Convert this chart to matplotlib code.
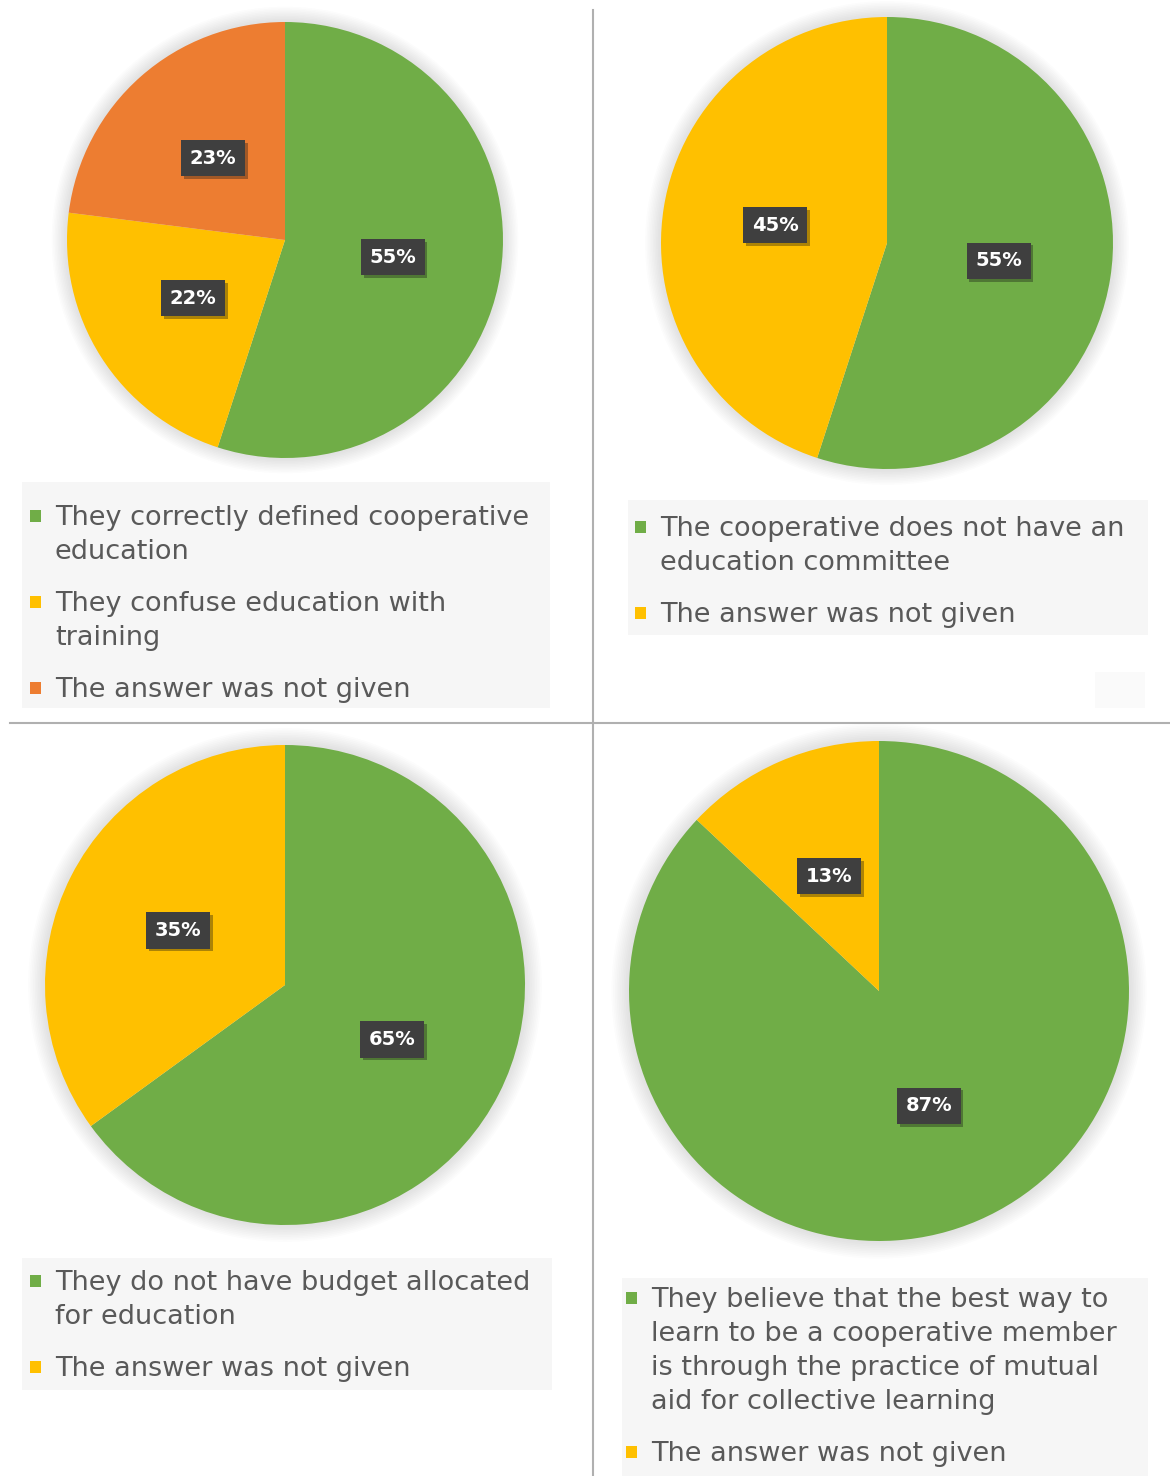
import matplotlib
matplotlib.use("Agg")
import matplotlib.pyplot as plt
from matplotlib.patches import Rectangle, Circle
from matplotlib.lines import Line2D
from matplotlib.legend_handler import HandlerPatch
from matplotlib import patheffects as pe

# ---------------- data ----------------
labels_1 = ["They correctly defined cooperative\neducation",
            "They confuse education with\ntraining",
            "The answer was not given"]
values_1 = [55, 22, 23]

labels_2 = ["The cooperative does not have an\neducation committee",
            "The answer was not given"]
values_2 = [55, 45]

labels_3 = ["They do not have budget allocated\nfor education",
            "The answer was not given"]
values_3 = [65, 35]

labels_4 = ["They believe that the best way to\nlearn to be a cooperative member\n"
            "is through the practice of mutual\naid for collective learning",
            "The answer was not given"]
values_4 = [87, 13]

GREEN, YELLOW, ORANGE = "#70AD47", "#FFC000", "#ED7D31"
colors_1 = [GREEN, YELLOW, ORANGE]
colors_2 = [GREEN, YELLOW]
colors_3 = [GREEN, YELLOW]
colors_4 = [GREEN, YELLOW]

# ---------------- layout ----------------
W, H = 1170, 1476
fig = plt.figure(figsize=(W / 100, H / 100), dpi=100)
fig.patch.set_facecolor("white")

LEG_FS = 19.5          # legend font size (pt)
LEG_PX = LEG_FS * 100 / 72
ASC = 0.906            # "lp" ascent in em units as used by matplotlib's layout
LEG_LS = 34.0 / (ASC * LEG_PX)   # baseline spacing inside an entry ~ 34 px
SQ = 0.39              # key square size (em)
GAP_PX = 14            # gap between key square and text (px)
TEXT_COLOR = "#595959"


class FirstLineSquare(HandlerPatch):
    """Square legend key aligned with the first line of a multi-line label."""
    def __init__(self, nlines, **kw):
        super().__init__(**kw)
        self.nlines = nlines

    def create_artists(self, legend, orig_handle, xdescent, ydescent,
                       width, height, fontsize, trans):
        shift = 0.0
        if self.nlines > 1:
            shift = 0.5 * ((self.nlines - 1) * ASC * fontsize * LEG_LS
                           + 0.236 * fontsize)
        p = Rectangle((-xdescent, 0.12 * fontsize + shift), SQ * fontsize,
                      0.44 * fontsize, facecolor=orig_handle.get_facecolor(),
                      edgecolor="none", transform=trans)
        return [p]


def fig_rect(x0, y0, x1, y1, color):
    fig.add_artist(Rectangle((x0 / W, 1 - y1 / H), (x1 - x0) / W, (y1 - y0) / H,
                             transform=fig.transFigure, facecolor=color,
                             edgecolor="none", zorder=0))


def draw_panel(cx, cy, r, values, colors, labels, text_x, first_baseline):
    ax = fig.add_axes([(cx - r) / W, 1 - (cy + r) / H, 2 * r / W, 2 * r / H])
    # soft glow around the pie
    for k in range(10):
        ax.add_patch(Circle((0, 0), 1.0 + 0.007 * (k + 1), facecolor="#7f7f7f",
                            edgecolor="none", alpha=0.018, zorder=0, clip_on=False))
    wedges, _, autotexts = ax.pie(
        values, colors=colors, startangle=90, counterclock=False,
        autopct=lambda p: f"{p:.0f}%", pctdistance=0.5,
        wedgeprops=dict(linewidth=0))
    for w in wedges:
        w.set_zorder(2)
    for t in autotexts:
        t.set(color="white", fontsize=14, fontweight="bold", zorder=5)
        t.set_bbox(dict(boxstyle="square,pad=0.44", facecolor="#3f3f3f",
                        edgecolor="none"))
        t.get_bbox_patch().set_path_effects(
            [pe.SimplePatchShadow(offset=(2, -2), alpha=0.35), pe.Normal()])
    ax.set_xlim(-1, 1)
    ax.set_ylim(-1, 1)
    ax.set_aspect("equal")
    ax.axis("off")

    hmap = {w: FirstLineSquare(lab.count("\n") + 1) for w, lab in zip(wedges, labels)}
    top_px = first_baseline - ASC * LEG_PX
    leg_x = text_x - GAP_PX - SQ * LEG_PX
    leg = fig.legend(wedges, labels, loc="upper left",
                     bbox_to_anchor=(leg_x / W, 1 - top_px / H),
                     bbox_transform=fig.transFigure, frameon=False,
                     fontsize=LEG_FS, handlelength=SQ, handleheight=0.45,
                     handletextpad=GAP_PX / LEG_PX, labelspacing=0.97,
                     borderpad=0, borderaxespad=0, handler_map=hmap)
    for t in leg.get_texts():
        t.set_color(TEXT_COLOR)
        t.set_linespacing(LEG_LS)
    return ax


# legend background boxes
fig_rect(22, 482, 550, 708, "#f6f6f6")
fig_rect(628, 500, 1148, 635, "#f6f6f6")
fig_rect(1095, 672, 1145, 708, "#fafafa")
fig_rect(22, 1258, 552, 1390, "#f6f6f6")
fig_rect(622, 1278, 1148, 1476, "#f6f6f6")

draw_panel(285, 240, 218, values_1, colors_1, labels_1, 55, 530)
draw_panel(887, 243, 226, values_2, colors_2, labels_2, 660, 541)
draw_panel(285, 985, 240, values_3, colors_3, labels_3, 55, 1295)
draw_panel(879, 991, 250, values_4, colors_4, labels_4, 651, 1312)

# divider lines
fig.add_artist(Line2D([593 / W, 593 / W], [1 - 10 / H, 0], transform=fig.transFigure,
                      color="#b0b0b0", linewidth=1.5))
fig.add_artist(Line2D([10 / W, 1], [1 - 723 / H, 1 - 723 / H], transform=fig.transFigure,
                      color="#b0b0b0", linewidth=1.5))

fig.savefig("out.png", dpi=100, facecolor="white")
